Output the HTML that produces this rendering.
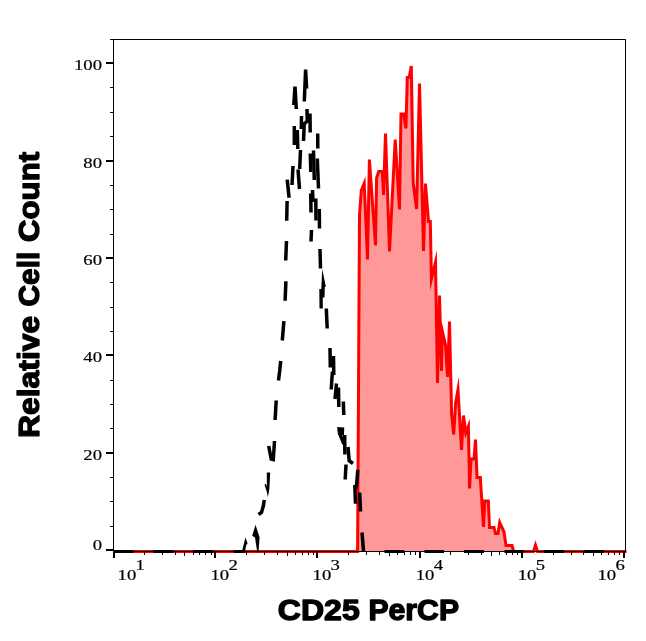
<!DOCTYPE html>
<html><head><meta charset="utf-8"><title>CD25 PerCP histogram</title>
<style>
html,body{margin:0;padding:0;background:#fff;}
body{width:646px;height:641px;overflow:hidden;font-family:"Liberation Sans",sans-serif;}
svg{display:block;will-change:transform;}
.tk{font-family:"Liberation Serif",serif;font-size:15.2px;fill:#000;stroke:#000;stroke-width:0.2px;}
.ttl{font-family:"Liberation Sans",sans-serif;font-weight:bold;font-size:28.9px;fill:#000;stroke:#000;stroke-width:1.3px;stroke-linejoin:round;}
</style></head><body>
<svg width="646" height="641" viewBox="0 0 646 641">
<rect x="0" y="0" width="646" height="641" fill="#ffffff"/>
<polygon points="357.6,551.5 359.5,215.0 361.3,190.5 364.2,183.2 367.5,259.5 369.4,159.5 375.5,245.5 376.6,178.0 378.7,171.5 382.3,171.5 383.5,195.0 385.5,133.5 389.5,251.5 395.2,139.7 399.5,209.5 401.0,114.0 403.7,114.0 405.9,128.5 407.3,77.6 409.2,77.6 411.3,66.0 413.2,183.0 416.6,209.0 419.5,83.5 423.5,251.0 425.5,183.5 428.5,221.5 430.3,221.5 431.4,279.0 435.5,262.0 437.5,383.0 439.5,295.5 441.5,371.0 442.3,331.0 445.5,345.0 447.5,377.0 449.5,321.5 451.6,414.0 453.7,434.5 455.6,403.0 458.0,389.5 461.5,450.0 463.5,415.5 465.8,433.0 468.4,426.3 469.6,488.5 471.0,459.0 474.0,459.0 475.5,439.5 477.0,477.5 480.3,477.5 483.5,527.0 484.8,501.0 488.3,501.0 489.5,527.5 494.0,527.5 495.5,533.5 498.0,533.5 499.7,522.4 504.0,532.0 506.0,545.5 512.0,545.5 513.7,551.5 513.7,552.0 357.6,552.0" fill="#ff9999" stroke="none"/>
<polyline points="113.5,551.5 357.6,551.5 359.5,215.0 361.3,190.5 364.2,183.2 367.5,259.5 369.4,159.5 375.5,245.5 376.6,178.0 378.7,171.5 382.3,171.5 383.5,195.0 385.5,133.5 389.5,251.5 395.2,139.7 399.5,209.5 401.0,114.0 403.7,114.0 405.9,128.5 407.3,77.6 409.2,77.6 411.3,66.0 413.2,183.0 416.6,209.0 419.5,83.5 423.5,251.0 425.5,183.5 428.5,221.5 430.3,221.5 431.4,279.0 435.5,262.0 437.5,383.0 439.5,295.5 441.5,371.0 442.3,331.0 445.5,345.0 447.5,377.0 449.5,321.5 451.6,414.0 453.7,434.5 455.6,403.0 458.0,389.5 461.5,450.0 463.5,415.5 465.8,433.0 468.4,426.3 469.6,488.5 471.0,459.0 474.0,459.0 475.5,439.5 477.0,477.5 480.3,477.5 483.5,527.0 484.8,501.0 488.3,501.0 489.5,527.5 494.0,527.5 495.5,533.5 498.0,533.5 499.7,522.4 504.0,532.0 506.0,545.5 512.0,545.5 513.7,551.5 533.5,551.5 535.5,545.2 537.5,551.5 626.5,551.5" fill="none" stroke="#ff0000" stroke-width="3" stroke-linejoin="miter" stroke-miterlimit="10"/>
<g shape-rendering="crispEdges" fill="#000">
<rect x="110" y="39" width="516" height="1"/>
<rect x="113" y="39" width="1" height="513"/>
<rect x="625" y="39" width="1" height="513"/>
<rect x="113" y="551" width="513" height="1"/>
<rect x="106" y="62" width="7" height="2"/>
<rect x="106" y="160" width="7" height="2"/>
<rect x="106" y="257" width="7" height="2"/>
<rect x="106" y="354" width="7" height="2"/>
<rect x="106" y="452" width="7" height="2"/>
<rect x="106" y="549" width="7" height="2"/>
<rect x="110" y="87" width="3" height="1"/>
<rect x="110" y="112" width="3" height="1"/>
<rect x="110" y="136" width="3" height="1"/>
<rect x="110" y="185" width="3" height="1"/>
<rect x="110" y="209" width="3" height="1"/>
<rect x="110" y="234" width="3" height="1"/>
<rect x="110" y="282" width="3" height="1"/>
<rect x="110" y="307" width="3" height="1"/>
<rect x="110" y="331" width="3" height="1"/>
<rect x="110" y="380" width="3" height="1"/>
<rect x="110" y="404" width="3" height="1"/>
<rect x="110" y="428" width="3" height="1"/>
<rect x="110" y="477" width="3" height="1"/>
<rect x="110" y="501" width="3" height="1"/>
<rect x="110" y="526" width="3" height="1"/>
<rect x="113" y="551" width="2" height="7"/>
<rect x="214" y="551" width="2" height="7"/>
<rect x="316" y="551" width="2" height="7"/>
<rect x="419" y="551" width="2" height="7"/>
<rect x="521" y="551" width="2" height="7"/>
<rect x="623" y="551" width="2" height="7"/>
<rect x="144" y="551" width="1" height="4"/>
<rect x="162" y="551" width="1" height="4"/>
<rect x="175" y="551" width="1" height="4"/>
<rect x="184" y="551" width="1" height="5"/>
<rect x="193" y="551" width="1" height="4"/>
<rect x="199" y="551" width="1" height="4"/>
<rect x="205" y="551" width="1" height="4"/>
<rect x="211" y="551" width="1" height="4"/>
<rect x="246" y="551" width="1" height="4"/>
<rect x="264" y="551" width="1" height="4"/>
<rect x="277" y="551" width="1" height="4"/>
<rect x="287" y="551" width="1" height="5"/>
<rect x="295" y="551" width="1" height="4"/>
<rect x="302" y="551" width="1" height="4"/>
<rect x="308" y="551" width="1" height="4"/>
<rect x="313" y="551" width="1" height="4"/>
<rect x="348" y="551" width="1" height="4"/>
<rect x="366" y="551" width="1" height="4"/>
<rect x="379" y="551" width="1" height="4"/>
<rect x="389" y="551" width="1" height="5"/>
<rect x="397" y="551" width="1" height="4"/>
<rect x="404" y="551" width="1" height="4"/>
<rect x="410" y="551" width="1" height="4"/>
<rect x="415" y="551" width="1" height="4"/>
<rect x="450" y="551" width="1" height="4"/>
<rect x="468" y="551" width="1" height="4"/>
<rect x="481" y="551" width="1" height="4"/>
<rect x="491" y="551" width="1" height="5"/>
<rect x="499" y="551" width="1" height="4"/>
<rect x="506" y="551" width="1" height="4"/>
<rect x="512" y="551" width="1" height="4"/>
<rect x="517" y="551" width="1" height="4"/>
<rect x="553" y="551" width="1" height="4"/>
<rect x="571" y="551" width="1" height="4"/>
<rect x="583" y="551" width="1" height="4"/>
<rect x="593" y="551" width="1" height="5"/>
<rect x="601" y="551" width="1" height="4"/>
<rect x="608" y="551" width="1" height="4"/>
<rect x="614" y="551" width="1" height="4"/>
<rect x="619" y="551" width="1" height="4"/>
</g>
<g fill="none" stroke="#000" stroke-width="3.5" stroke-linejoin="miter" stroke-miterlimit="3" stroke-linecap="butt">
<polyline points="258.5,514.5 261.5,512.5 263.3,506.0 264.3,500.0"/>
<polyline points="268.7,446.0 271.2,459.0 273.3,459.5 274.5,441.0"/>
<polyline points="276.2,400.5 275.1,420.0"/>
<polyline points="280.7,361.0 279.8,370.0 278.5,380.5"/>
<polyline points="283.9,321.2 282.3,340.5"/>
<polyline points="285.9,281.2 285.1,300.7"/>
<polyline points="286.5,241.0 285.7,260.5"/>
<polyline points="287.1,201.0 286.7,220.8"/>
<polyline points="287.2,179.6 289.1,197.8"/>
<polyline points="293.0,166.0 292.0,185.0"/>
<polyline points="298.0,169.5 299.5,189.0"/>
<polyline points="300.5,150.0 299.7,169.0"/>
<polyline points="294.3,126.0 294.3,145.0"/>
<polyline points="297.3,130.0 297.8,149.0"/>
<polyline points="293.8,105.0 295.0,86.5 296.3,109.0"/>
<polyline points="301.5,116.0 301.3,129.0"/>
<polyline points="304.3,122.0 303.5,141.0"/>
<polyline points="307.0,109.0 307.3,123.0"/>
<polyline points="310.0,113.5 310.2,132.5"/>
<polyline points="301.4,128.0 304.2,122.5"/>
<polyline points="304.3,122.5 307.2,122.5"/>
<polyline points="304.3,101.5 305.6,69.5 306.6,88.5"/>
<polyline points="317.7,133.5 317.8,148.5"/>
<polyline points="310.3,153.5 310.8,172.0"/>
<polyline points="313.5,150.5 314.3,180.0"/>
<polyline points="317.3,158.5 318.5,188.5"/>
<polyline points="312.5,190.0 313.0,202.0"/>
<polyline points="310.7,193.5 311.0,212.5"/>
<polyline points="315.8,198.5 316.0,220.5"/>
<polyline points="319.3,209.0 319.5,228.5"/>
<polyline points="311.5,230.0 311.0,241.5"/>
<polyline points="320.0,249.0 320.5,268.5"/>
<polyline points="326.3,308.5 327.2,328.5"/>
<polyline points="330.0,348.0 330.3,367.5"/>
<polyline points="333.5,356.0 333.8,375.0"/>
<polyline points="332.4,371.5 331.2,389.5"/>
<polyline points="336.5,383.5 335.0,399.0"/>
<polyline points="338.5,387.5 338.8,407.0"/>
<polyline points="343.3,401.5 343.8,415.0"/>
<polyline points="339.0,432.0 344.0,444.0"/>
<polyline points="344.7,435.0 344.9,454.5"/>
<polyline points="348.0,447.0 349.3,462.0"/>
<polyline points="349.5,461.0 353.0,463.5"/>
<polyline points="346.0,464.5 345.2,479.5"/>
<polyline points="357.8,469.8 356.5,486.0 355.2,489.0"/>
<polyline points="354.8,485.0 355.5,503.7"/>
<polyline points="359.7,492.5 360.5,511.5"/>
<polyline points="362.0,532.5 363.5,551.0"/>
</g>
<g fill="#000" stroke="none">
<polygon points="266.8,472.5 270.2,472.5 269.4,489.0 267.9,497.0 266.6,491.0 264.5,485.0 265.8,483.5 266.9,486.5"/>
<polygon points="233.8,550.0 242.3,550.0 245.5,537.5 247.6,543.5 246.2,545.0 244.8,553.0 233.8,553.0"/>
<polygon points="255.5,524.8 259.6,537.5 258.5,552.5 257.3,552.5 255.0,537.5 252.2,535.8"/>
<polygon points="322.2,269.0 325.8,286.5 324.8,287.2 324.5,297.5 322.8,297.5 322.8,308.5 319.5,308.5 319.3,289.0 321.3,289.0"/>
<polygon points="337.2,427.0 344.2,427.5 344.0,435.0 339.5,435.0 337.4,431.0"/>
<rect x="113" y="550" width="20.4" height="3"/>
<rect x="153.5" y="550" width="19.8" height="3"/>
<rect x="193.5" y="550" width="19.7" height="3"/>
<rect x="384.5" y="550" width="19.7" height="3"/>
<rect x="424.5" y="550" width="19.5" height="3"/>
<rect x="464" y="550" width="20.0" height="3"/>
<rect x="504.5" y="550" width="19.0" height="3"/>
<rect x="544" y="550" width="20.0" height="3"/>
<rect x="584" y="550" width="19.7" height="3"/>
</g>
<text class="tk" transform="translate(102,70.0) scale(1.23,1)" text-anchor="end">100</text>
<text class="tk" transform="translate(102,168.0) scale(1.23,1)" text-anchor="end">80</text>
<text class="tk" transform="translate(102,265.0) scale(1.23,1)" text-anchor="end">60</text>
<text class="tk" transform="translate(102,362.0) scale(1.23,1)" text-anchor="end">40</text>
<text class="tk" transform="translate(102,460.0) scale(1.23,1)" text-anchor="end">20</text>
<text class="tk" transform="translate(102,550.0) scale(1.23,1)" text-anchor="end">0</text>
<text class="tk" transform="translate(117.6,580) scale(1.23,1)">10</text>
<text class="tk" transform="translate(135.6,570) scale(1.23,1)">1</text>
<text class="tk" transform="translate(210.5,580) scale(1.23,1)">10</text>
<text class="tk" transform="translate(228.5,570) scale(1.23,1)">2</text>
<text class="tk" transform="translate(312.6,580) scale(1.23,1)">10</text>
<text class="tk" transform="translate(330.6,570) scale(1.23,1)">3</text>
<text class="tk" transform="translate(415.7,580) scale(1.23,1)">10</text>
<text class="tk" transform="translate(433.7,570) scale(1.23,1)">4</text>
<text class="tk" transform="translate(517.7,580) scale(1.23,1)">10</text>
<text class="tk" transform="translate(535.7,570) scale(1.23,1)">5</text>
<text class="tk" transform="translate(597.5,580) scale(1.23,1)">10</text>
<text class="tk" transform="translate(615.5,570) scale(1.23,1)">6</text>
<text class="ttl" transform="translate(277.8,619.7) scale(1.11,1)">CD25</text>
<text class="ttl" transform="translate(368.4,619.7) scale(1.045,1)">PerCP</text>
<text class="ttl" transform="translate(38.7,438) rotate(-90) scale(1.104,1)">Relative</text>
<text class="ttl" transform="translate(38.7,306.5) rotate(-90) scale(1.033,1)">Cell</text>
<text class="ttl" transform="translate(38.7,242) rotate(-90) scale(1.08,1)">Count</text>
</svg>
</body></html>
